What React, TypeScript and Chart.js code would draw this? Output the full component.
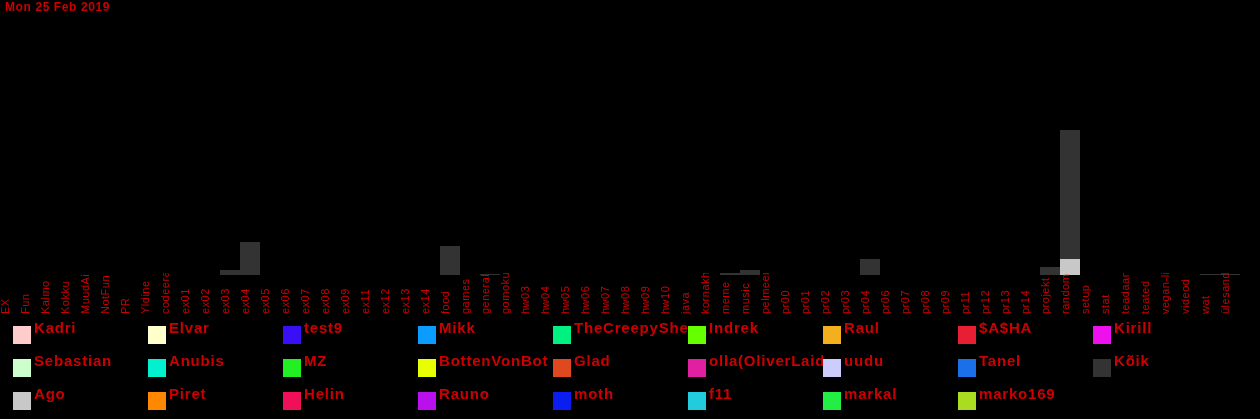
import React, { useEffect, useRef } from 'react';
import { Chart, registerables } from 'chart.js';

Chart.register(...registerables);

const titleText = 'Mon 25 Feb 2019';

const channels = [
  'EX', 'Fun', 'Kalmo', 'Kokku', 'MuudAined', 'NotFun', 'PR', 'Yldine', 'codeera', 'ex01',
  'ex02', 'ex03', 'ex04', 'ex05', 'ex06', 'ex07', 'ex08', 'ex09', 'ex11', 'ex12',
  'ex13', 'ex14', 'food', 'games', 'general', 'gomoku', 'hw03', 'hw04', 'hw05', 'hw06',
  'hw07', 'hw08', 'hw09', 'hw10', 'java', 'kornakhuul', 'meme', 'music', 'pelmeeni', 'pr00',
  'pr01', 'pr02', 'pr03', 'pr04', 'pr06', 'pr07', 'pr08', 'pr09', 'pr11', 'pr12',
  'pr13', 'pr14', 'projekt', 'random', 'setup', 'stat', 'teadaanded', 'teated', 'vegan-life', 'videod',
  'wat', 'ülesanded',
];

const users = [
  'Kadri', 'Elvar', 'test9', 'Mikk', 'TheCreepyShepherd', 'Indrek', 'Raul', '$A$HA', 'Kirill',
  'Sebastian', 'Anubis', 'MZ', 'BottenVonBot', 'Glad', 'olla(OliverLaidvee)', 'uudu', 'Tanel', 'Kõik',
  'Ago', 'Piret', 'Helin', 'Rauno', 'moth', 'f11', 'markal', 'marko169',
];

const userColors = [
  '#ffcccc', '#ffffcc', '#3b0ff5', '#0a9cff', '#00f082', '#66ff00', '#f2b01e', '#e81e32', '#ee11ee',
  '#ccffcc', '#00f0d0', '#22f022', '#e8ff00', '#e04820', '#e020a0', '#ccccff', '#1a70e8', '#333333',
  '#c8c8c8', '#ff8800', '#f0105a', '#bb10ee', '#0a1ef0', '#22ccdd', '#22ee44', '#aadd22',
];

// message counts per channel
const koikValues = [
  0, 0, 0, 0, 0, 0, 0, 0, 0, 0,
  0, 5, 33, 0, 0, 0, 0, 0, 0, 0,
  0, 0, 29, 0, 1, 0, 0, 0, 0, 0,
  0, 0, 0, 0, 0, 0, 2, 5, 0, 0,
  0, 0, 0, 16, 0, 0, 0, 0, 0, 0,
  0, 0, 8, 129, 0, 0, 0, 0, 0, 0,
  1, 1,
];

const agoValues = [
  0, 0, 0, 0, 0, 0, 0, 0, 0, 0,
  0, 0, 0, 0, 0, 0, 0, 0, 0, 0,
  0, 0, 0, 0, 0, 0, 0, 0, 0, 0,
  0, 0, 0, 0, 0, 0, 0, 0, 0, 0,
  0, 0, 0, 0, 0, 0, 0, 0, 0, 0,
  0, 0, 0, 16, 0, 0, 0, 0, 0, 0,
  0, 0,
];

const yMax = 255;
const RED = '#cc0000';

export default function App() {
  const ref = useRef<HTMLCanvasElement | null>(null);

  useEffect(() => {
    document.body.style.margin = '0';
    document.body.style.background = '#000';
    const canvas = ref.current;
    if (!canvas) return;

    // Ago stacks under Kõik, so it comes first in the dataset list
    const stackOrder = users
      .map((u, i) => i)
      .sort((a, b) => (users[a] === 'Ago' ? -1 : users[b] === 'Ago' ? 1 : a - b));

    const datasets = stackOrder.map((i) => {
      const name = users[i];
      let data: number[] = [];
      if (name === 'Kõik') data = koikValues;
      if (name === 'Ago') data = agoValues;
      return {
        label: name,
        data,
        backgroundColor: userColors[i],
        borderWidth: 0,
        inflateAmount: 0,
        barPercentage: 1,
        categoryPercentage: 1,
      };
    });

    const decor = {
      id: 'decor',
      afterDraw(chart: any) {
        const ctx = chart.ctx as CanvasRenderingContext2D;
        const xs = chart.scales.x;
        // title
        ctx.save();
        ctx.fillStyle = RED;
        ctx.font = 'bold 12px "Liberation Sans", Arial, sans-serif';
        (ctx as any).letterSpacing = '0.6px';
        ctx.textBaseline = 'alphabetic';
        ctx.textAlign = 'left';
        ctx.fillText(titleText, 5, 11);
        ctx.restore();

        // x labels, rotated, starting from the bottom
        ctx.save();
        ctx.beginPath();
        ctx.rect(0, 273, chart.width, 43);
        ctx.clip();
        ctx.fillStyle = RED;
        ctx.font = '11px "Liberation Sans", Arial, sans-serif';
        (ctx as any).letterSpacing = '0.5px';
        ctx.textBaseline = 'alphabetic';
        ctx.textAlign = 'left';
        channels.forEach((c, i) => {
          const x = xs.getPixelForValue(i);
          ctx.save();
          ctx.translate(x - 1, 314);
          ctx.rotate(-Math.PI / 2);
          ctx.fillText(c, 0, 0);
          ctx.restore();
        });
        ctx.restore();

        // legend grid
        ctx.save();
        ctx.font = 'bold 15px "Liberation Sans", Arial, sans-serif';
        (ctx as any).letterSpacing = '0.8px';
        ctx.textBaseline = 'alphabetic';
        ctx.textAlign = 'left';
        users.forEach((u, i) => {
          const col = i % 9;
          const row = Math.floor(i / 9);
          const bx = 13 + col * 135;
          const by = 326 + row * 33;
          ctx.fillStyle = userColors[i];
          ctx.fillRect(bx, by, 18, 18);
          ctx.save();
          ctx.beginPath();
          ctx.rect(bx, by - 10, 135, 40);
          ctx.clip();
          ctx.fillStyle = RED;
          ctx.fillText(u, bx + 21, by + 7);
          ctx.restore();
        });
        ctx.restore();
      },
    };

    const chart = new Chart(canvas, {
      type: 'bar',
      data: { labels: channels, datasets },
      options: {
        responsive: false,
        animation: false,
        layout: { padding: { left: 0, right: 20, top: 20, bottom: 144 } },
        plugins: {
          legend: { display: false },
          title: { display: false },
          tooltip: { enabled: false },
        },
        scales: {
          x: { display: false, stacked: true, grid: { display: false } },
          y: { display: false, stacked: true, min: 0, max: yMax, grid: { display: false } },
        },
      },
      plugins: [decor],
    });

    return () => chart.destroy();
  }, []);

  return (
    <canvas
      ref={ref}
      width={1260}
      height={419}
      style={{ display: 'block', width: 1260, height: 419, background: '#000' }}
    />
  );
}
